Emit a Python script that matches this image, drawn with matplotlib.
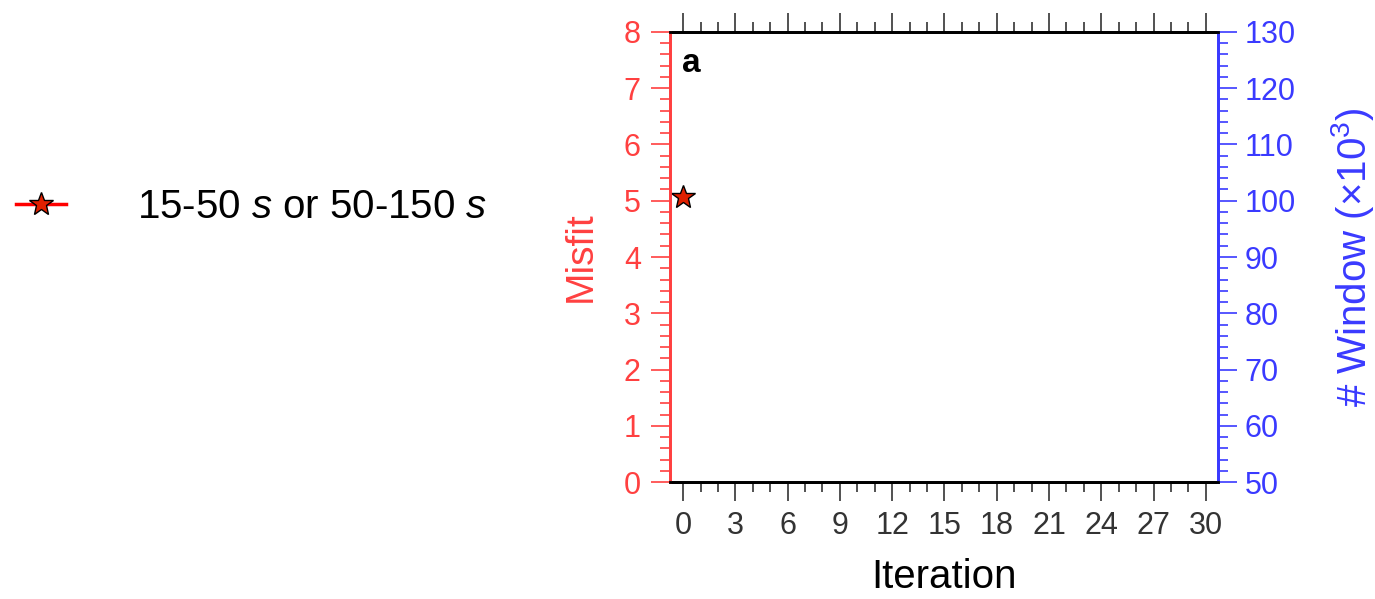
import matplotlib.pyplot as plt
from matplotlib.ticker import MultipleLocator

plt.rcParams['font.family'] = ['Liberation Sans', 'DejaVu Sans']
plt.rcParams['mathtext.fontset'] = 'custom'
plt.rcParams['mathtext.rm'] = 'Liberation Sans'
plt.rcParams['mathtext.it'] = 'Liberation Sans:italic'

# data
iteration = [0]
misfit = [5.06]
series_label = '15-50 $s$ or 50-150 $s$'

RED = '#ff4040'
BLUE = '#3a3aff'
GREY = '#333333'

fig = plt.figure(figsize=(13.75, 5.99), dpi=100)
ax = fig.add_axes([0.4873, 0.1953, 0.3985, 0.7513])
ax2 = ax.twinx()

line, = ax.plot(iteration, misfit, '-', color='red', marker='*', markersize=18,
                markerfacecolor='#e02000', markeredgecolor='black', markeredgewidth=1.0,
                lw=2.5, label=series_label, clip_on=False, zorder=5)

ax.set_xlim(-0.75, 30.7)
ax.set_ylim(0, 8)
ax2.set_ylim(50, 130)

ax.xaxis.set_major_locator(MultipleLocator(3))
ax.xaxis.set_minor_locator(MultipleLocator(1))
ax.yaxis.set_major_locator(MultipleLocator(1))
ax.yaxis.set_minor_locator(MultipleLocator(0.2))
ax2.yaxis.set_major_locator(MultipleLocator(10))
ax2.yaxis.set_minor_locator(MultipleLocator(2))

fs = 22
ax.tick_params(axis='x', which='both', direction='out', top=True, colors=GREY,
               labelsize=fs, width=1.2, pad=7)
ax.tick_params(axis='x', which='major', length=14)
ax.tick_params(axis='x', which='minor', length=7.5)
ax.tick_params(axis='y', which='both', colors=RED, labelsize=fs, width=1.2, pad=7)
ax.tick_params(axis='y', which='major', length=14)
ax.tick_params(axis='y', which='minor', length=7.5)
ax2.tick_params(axis='y', which='both', colors=BLUE, labelsize=fs, width=1.2, pad=5)
ax2.tick_params(axis='y', which='major', length=14)
ax2.tick_params(axis='y', which='minor', length=7.5)

for a in (ax, ax2):
    a.spines['left'].set_color(RED)
    a.spines['right'].set_color(BLUE)
    for s in a.spines.values():
        s.set_linewidth(2)

ax.set_xlabel('Iteration', fontsize=29, color='black', labelpad=12)
ax.set_ylabel('Misfit', fontsize=28, color=RED, labelpad=18)
ax2.set_ylabel(r'# Window ($\times$10$^3$)', fontsize=29, color=BLUE, labelpad=24,
               rotation=90)

ax.text(0.022, 0.965, 'a', transform=ax.transAxes, fontsize=24, fontweight='bold',
        va='top', ha='left')

fig.legend(handles=[line], loc='center left', bbox_to_anchor=(0.0, 0.654),
           frameon=False, fontsize=29, handlelength=1.25, handletextpad=1.75,
           borderaxespad=0.0)

plt.savefig('out.png', dpi=100)
